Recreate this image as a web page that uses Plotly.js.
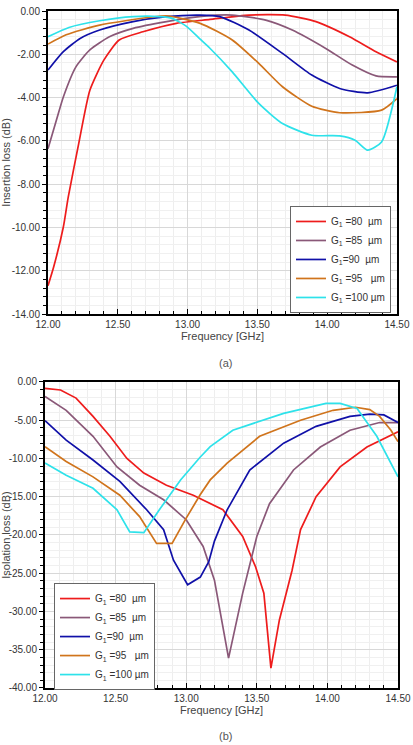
<!DOCTYPE html>
<html>
<head>
<meta charset="utf-8">
<script src="https://cdn.plot.ly/plotly-3.0.1.min.js"></script>
<style>
  html, body { margin: 0; padding: 0; background: #fff; }
  #chart { width: 413px; height: 745px; }
</style>
</head>
<body>
<div id="chart"></div>
<script>
// ---- (a) Insertion loss vs frequency, one series per gap G1 ----
const ilFreq80  = [12.00, 12.04, 12.11, 12.145, 12.22, 12.30, 12.40, 12.51, 12.68, 12.92, 13.16, 13.44, 13.70, 13.92, 14.16, 14.35, 14.50];
const ilLoss80  = [-12.69, -11.84, -9.98, -8.60, -6.13, -3.66, -2.27, -1.34, -0.96, -0.57, -0.39, -0.19, -0.19, -0.49, -1.19, -1.88, -2.35];

const ilFreq85  = [12.00, 12.06, 12.11, 12.20, 12.30, 12.44, 12.61, 12.85, 13.10, 13.32, 13.56, 13.75, 13.99, 14.18, 14.35, 14.50];
const ilLoss85  = [-6.36, -5.05, -3.97, -2.58, -1.80, -1.19, -0.80, -0.49, -0.25, -0.19, -0.42, -0.88, -1.73, -2.50, -3.00, -3.04];

const ilFreq90  = [12.00, 12.11, 12.23, 12.37, 12.61, 12.85, 13.09, 13.23, 13.44, 13.68, 13.89, 14.09, 14.29, 14.50];
const ilLoss90  = [-2.73, -1.88, -1.27, -0.88, -0.49, -0.26, -0.19, -0.26, -0.88, -1.96, -2.96, -3.58, -3.78, -3.43];

const ilFreq95  = [12.00, 12.13, 12.37, 12.73, 12.85, 13.09, 13.32, 13.51, 13.68, 13.89, 14.09, 14.39, 14.50];
const ilLoss95  = [-1.53, -1.10, -0.65, -0.29, -0.22, -0.57, -1.34, -2.42, -3.50, -4.40, -4.70, -4.58, -4.05];

const ilFreq100 = [12.00, 12.15, 12.37, 12.61, 12.80, 12.89, 12.99, 13.09, 13.16, 13.32, 13.51, 13.68, 13.89, 14.09, 14.20, 14.29, 14.39, 14.50];
const ilLoss100 = [-1.19, -0.76, -0.45, -0.26, -0.26, -0.34, -0.70, -1.30, -1.72, -2.81, -4.27, -5.20, -5.74, -5.77, -5.97, -6.43, -6.05, -3.50];

// ---- (b) Isolation loss vs frequency ----
const isoFreq80  = [12.00, 12.11, 12.22, 12.34, 12.46, 12.58, 12.70, 12.86, 13.05, 13.17, 13.26, 13.40, 13.49, 13.55, 13.60, 13.66, 13.75, 13.81, 13.92, 14.09, 14.28, 14.50];
const isoLoss80  = [-0.83, -1.05, -2.10, -4.50, -7.10, -10.0, -11.9, -13.5, -14.8, -15.9, -16.7, -20.2, -24.1, -27.6, -37.4, -31.1, -24.6, -19.3, -15.0, -11.1, -8.5, -6.5];

const isoFreq85  = [12.00, 12.15, 12.34, 12.51, 12.67, 12.84, 13.00, 13.12, 13.20, 13.30, 13.40, 13.50, 13.59, 13.76, 13.95, 14.16, 14.37, 14.50];
const isoLoss85  = [-1.90, -3.70, -7.10, -11.1, -13.5, -15.4, -18.0, -21.5, -25.9, -36.1, -27.6, -20.2, -15.9, -11.5, -8.5, -6.3, -5.3, -5.3];

const isoFreq90  = [12.00, 12.15, 12.34, 12.53, 12.72, 12.84, 12.91, 13.01, 13.10, 13.16, 13.20, 13.29, 13.45, 13.69, 13.92, 14.16, 14.30, 14.40, 14.50];
const isoLoss90  = [-5.05, -7.60, -10.2, -13.0, -16.7, -19.3, -23.3, -26.5, -25.5, -23.5, -20.8, -16.7, -11.5, -8.0, -5.8, -4.5, -4.2, -4.3, -5.3];

const isoFreq95  = [12.00, 12.15, 12.34, 12.53, 12.67, 12.79, 12.90, 13.00, 13.10, 13.17, 13.29, 13.52, 13.81, 14.04, 14.20, 14.30, 14.37, 14.45, 14.50];
const isoLoss95  = [-8.45, -10.4, -12.4, -14.8, -17.6, -21.1, -21.1, -17.8, -14.7, -12.8, -10.6, -7.1, -5.0, -3.7, -3.3, -3.6, -4.5, -6.3, -7.8];

const isoFreq100 = [12.00, 12.15, 12.34, 12.51, 12.60, 12.70, 12.81, 12.96, 13.10, 13.17, 13.33, 13.69, 13.99, 14.09, 14.21, 14.35, 14.50];
const isoLoss100 = [-10.6, -12.2, -13.9, -16.7, -19.6, -19.7, -16.7, -12.8, -9.8, -8.45, -6.3, -4.1, -2.8, -2.8, -3.45, -7.1, -12.4];

// ---- labels and ticks ----
const seriesNames = ['G<sub>1</sub> =80  µm', 'G<sub>1</sub> =85  µm', 'G<sub>1</sub>=90  µm', 'G<sub>1</sub> =95   µm', 'G<sub>1</sub> =100 µm'];
const seriesColors = ['#ee1c1c', '#8a5878', '#1010a8', '#d0741c', '#2ee2ea'];

const freqTickVals = [12.0, 12.5, 13.0, 13.5, 14.0, 14.5];
const freqTickText = ['12.00', '12.50', '13.00', '13.50', '14.00', '14.50'];
const ilTickVals = [0, -2, -4, -6, -8, -10, -12, -14];
const ilTickText = ['0.00', '-2.00', '-4.00', '-6.00', '-8.00', '-10.00', '-12.00', '-14.00'];
const isoTickVals = [0, -5, -10, -15, -20, -25, -30, -35, -40];
const isoTickText = ['0.00', '-5.00', '-10.00', '-15.00', '-20.00', '-25.00', '-30.00', '-35.00', '-40.00'];

const ilFreqs = [ilFreq80, ilFreq85, ilFreq90, ilFreq95, ilFreq100];
const ilLosses = [ilLoss80, ilLoss85, ilLoss90, ilLoss95, ilLoss100];
const isoFreqs = [isoFreq80, isoFreq85, isoFreq90, isoFreq95, isoFreq100];
const isoLosses = [isoLoss80, isoLoss85, isoLoss90, isoLoss95, isoLoss100];

const traces = [];
for (let i = 0; i < 5; i++) {
  traces.push({
    x: ilFreqs[i], y: ilLosses[i], xaxis: 'x', yaxis: 'y',
    type: 'scatter', mode: 'lines', name: seriesNames[i], legend: 'legend',
    line: { color: seriesColors[i], width: 1.7, shape: 'spline', smoothing: 0.6 }
  });
}
for (let i = 0; i < 5; i++) {
  traces.push({
    x: isoFreqs[i], y: isoLosses[i], xaxis: 'x2', yaxis: 'y2',
    type: 'scatter', mode: 'lines', name: seriesNames[i], legend: 'legend2',
    line: { color: seriesColors[i], width: 1.7 }
  });
}

const tickFont = { family: 'Liberation Sans, Arial, sans-serif', size: 10, color: '#333' };
const titleFont = { family: 'Liberation Sans, Arial, sans-serif', size: 11, color: '#444' };

function freqAxis(domain, anchor) {
  return {
    domain: domain, anchor: anchor, range: [12, 14.5],
    tickmode: 'array', tickvals: freqTickVals, ticktext: freqTickText,
    ticks: 'inside', ticklen: 5, tickcolor: '#000', tickfont: tickFont,
    showgrid: true, gridcolor: '#d8d8d8', gridwidth: 1,
    minor: { dtick: 0.1, tick0: 12, ticks: 'inside', ticklen: 3, tickcolor: '#000', showgrid: true, gridcolor: '#eeeeee' },
    showline: true, linecolor: '#000', linewidth: 2, mirror: true, zeroline: false,
    title: { text: 'Frequency [GHz]', font: titleFont, standoff: 0 }
  };
}
function lossAxis(domain, anchor, range, vals, text, minorStep, label) {
  return {
    domain: domain, anchor: anchor, range: range,
    tickmode: 'array', tickvals: vals, ticktext: text,
    ticks: 'outside', ticklen: 4, tickcolor: '#000', tickfont: tickFont,
    showgrid: true, gridcolor: '#d8d8d8', gridwidth: 1,
    minor: { dtick: minorStep, tick0: 0, ticks: 'outside', ticklen: 3, tickcolor: '#000', showgrid: true, gridcolor: '#f0f0f0' },
    showline: true, linecolor: '#000', linewidth: 2, mirror: true, zeroline: false,
    title: { text: label, font: titleFont, standoff: 4 }
  };
}

const legendStyle = {
  xanchor: 'left', yanchor: 'top', bgcolor: '#fff', bordercolor: '#666', borderwidth: 1,
  font: { family: 'Liberation Sans, Arial, sans-serif', size: 10, color: '#333' },
  itemwidth: 30, tracegroupgap: 0
};

const layout = {
  width: 413, height: 745,
  margin: { l: 45, r: 15, t: 11, b: 57 },
  paper_bgcolor: '#fff', plot_bgcolor: '#fff',
  showlegend: true,
  xaxis: freqAxis([0.0085, 0.997], 'y'),
  yaxis: lossAxis([0.5524, 1], 'x', [-14, 0], ilTickVals, ilTickText, 0.4, 'Insertion loss (dB)'),
  xaxis2: freqAxis([0, 1], 'y2'),
  yaxis2: lossAxis([0, 0.452], 'x2', [-40, 0], isoTickVals, isoTickText, 1, 'Isolation loss (dB)'),
  legend: Object.assign({ x: 0.694, y: 0.712 }, legendStyle),
  legend2: Object.assign({ x: 0.0255, y: 0.155 }, legendStyle),
  annotations: [
    { text: '(a)', xref: 'paper', yref: 'paper', x: 0.51, y: 0.48, showarrow: false,
      font: { family: 'Liberation Sans, Arial, sans-serif', size: 11, color: '#555' } },
    { text: '(b)', xref: 'paper', yref: 'paper', x: 0.51, y: -0.083, showarrow: false,
      font: { family: 'Liberation Sans, Arial, sans-serif', size: 11, color: '#555' } }
  ]
};

Plotly.newPlot('chart', traces, layout, { displayModeBar: false, staticPlot: true });
</script>
</body>
</html>
